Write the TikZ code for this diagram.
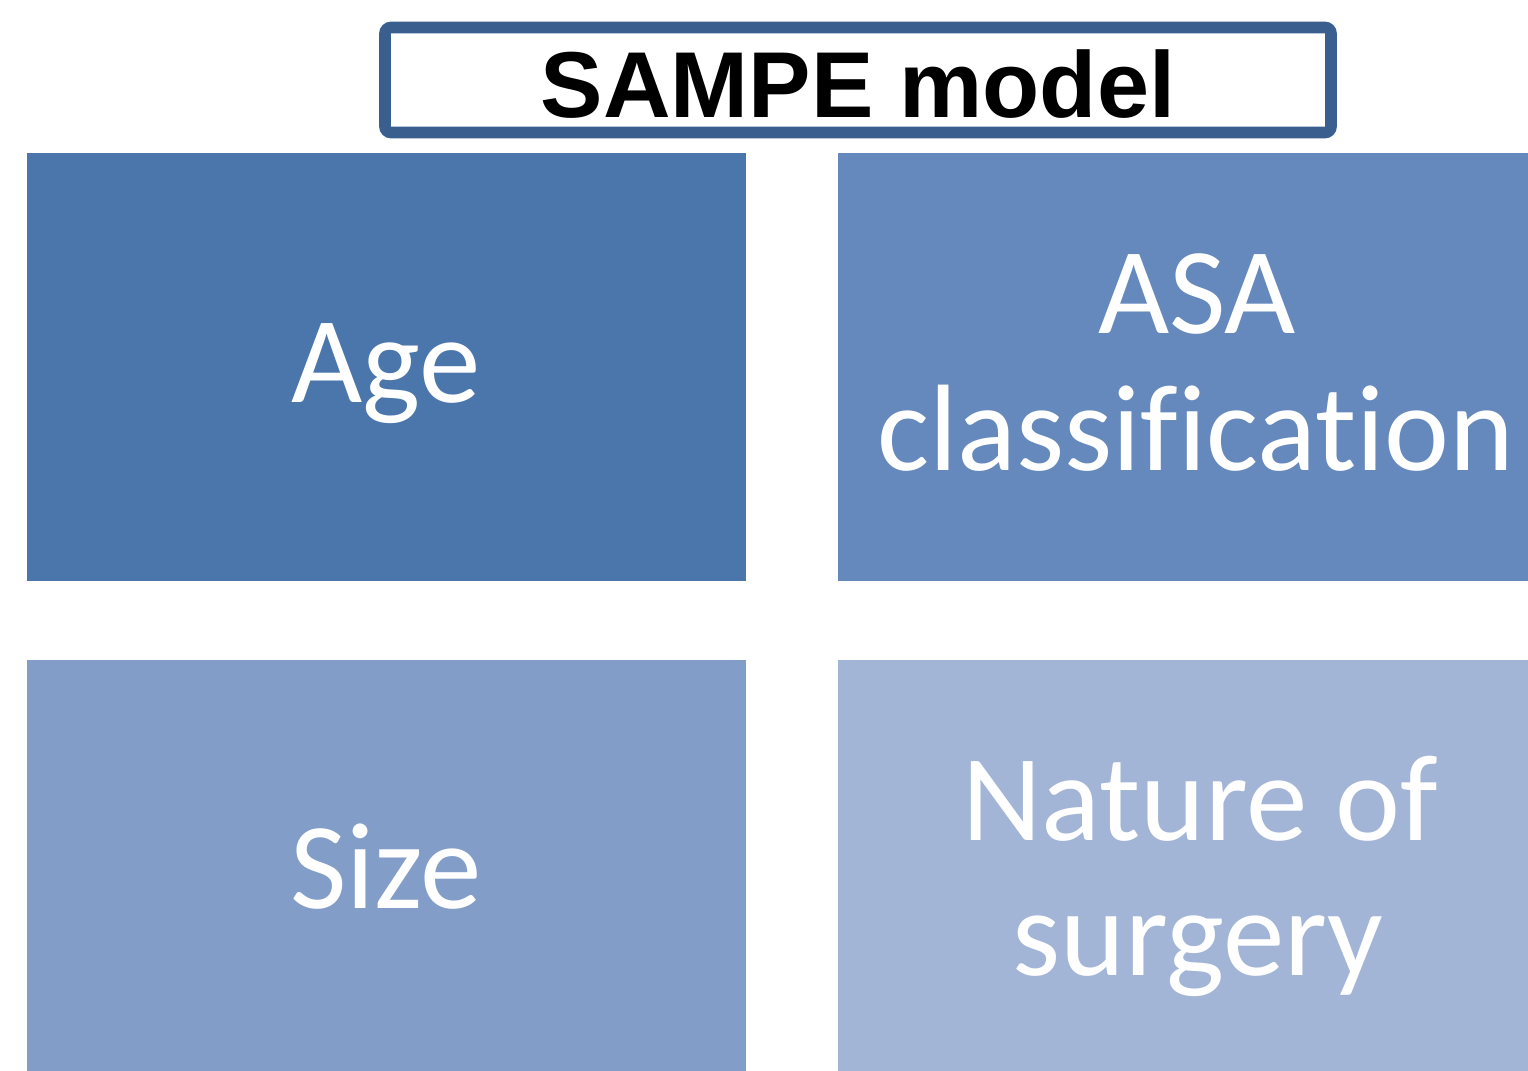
\documentclass[tikz,border=0pt]{standalone}
\usepackage{fontspec}
\setmainfont{Carlito}[Ligatures={NoCommon}]
\newfontfamily\titlefont{Liberation Sans}
\definecolor{cAge}{HTML}{4A76AC}
\definecolor{cAsa}{HTML}{6589BC}
\definecolor{cSize}{HTML}{829EC8}
\definecolor{cNat}{HTML}{A3B5D6}
\definecolor{cFrame}{HTML}{3A5F8E}
\begin{document}
\begin{tikzpicture}[x=0.5pt,y=-0.5pt,
  tiletext/.style={text=white,font=\fontsize{61.5}{68.5}\selectfont,anchor=base,inner sep=0pt},
  titletext/.style={text=black,font=\titlefont\bfseries\fontsize{46.8}{52}\selectfont,anchor=base,inner sep=0pt}]
\useasboundingbox (0,0) rectangle (1528,1071);
\begin{scope}
\clip (0,0) rectangle (1528,1071);
\fill[cAge] (27,153) rectangle (746,581);
\fill[cAsa] (838,153) rectangle (1556,581);
\fill[cSize] (27,660) rectangle (746,1100);
\fill[cNat] (838,660) rectangle (1556,1100);
\end{scope}
\draw[cFrame,line width=5.8pt,rounded corners=3pt,fill=white] (385,27.5) rectangle (1331,132.5);
\node[titletext] (title) at (858,117) {SAMPE model};
\node[tiletext] (age) at (386,402) {Age};
\node[tiletext] (asa) at (1197,333) {ASA};
\node[tiletext] (cls) at (1196,470) {classification};
\node[tiletext] (size) at (386,908) {Size};
\node[tiletext] (nat) at (1200,840) {Nature of};
\node[tiletext] (surg) at (1198,975) {surgery};
\end{tikzpicture}
\end{document}
